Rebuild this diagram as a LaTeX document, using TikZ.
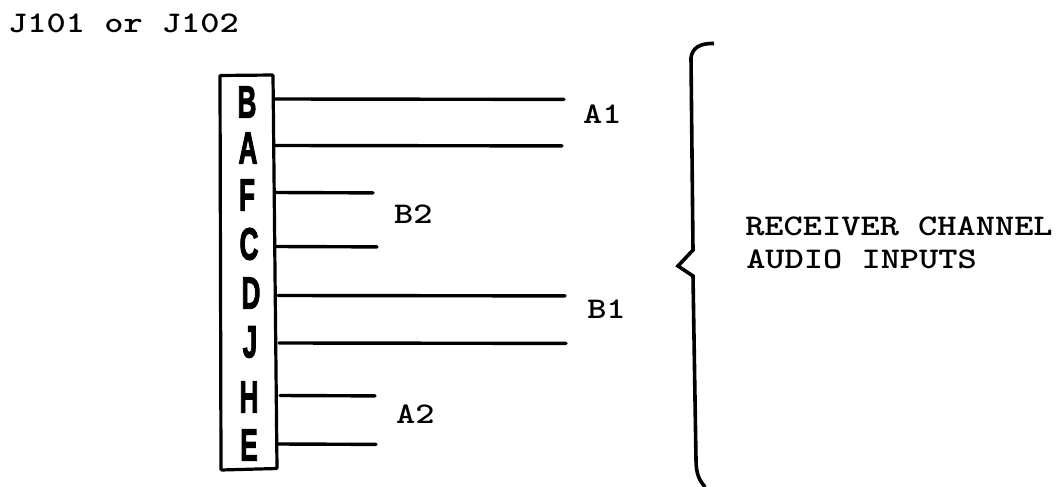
\documentclass[tikz,border=0pt]{standalone}
\usepackage{fontspec}
\newfontfamily\pinfont[FakeBold=3]{Liberation Sans Bold}
\tikzset{
  wire/.style={line width=3.4pt,line cap=round},
  pin/.style={font=\pinfont\fontsize{45}{45}\selectfont,xscale=.58,transform shape,inner sep=0pt,anchor=center},
  lab/.style={font=\ttfamily\bfseries\fontsize{30}{30}\selectfont,xscale=1.22,transform shape,inner sep=0pt,anchor=base west},
}
\begin{document}
\begin{tikzpicture}[x=1pt,y=-1pt]
\useasboundingbox (0,0) rectangle (1058,487);
\fill[white] (0,0) rectangle (1058,487);
\node[lab] (title) at (8,33) {J101 or J102};
\draw[line width=3.2pt,rounded corners=1pt] (220,75.5) -- (273,75) -- (277,468.5) -- (221,470) -- cycle;
\node[pin] (pB) at (247,102) {B};
\node[pin] (pA) at (248,148) {A};
\node[pin] (pF) at (247,195) {F};
\node[pin] (pC) at (249,244) {C};
\node[pin] (pD) at (251,293) {D};
\node[pin] (pJ) at (250,342) {J};
\node[pin] (pH) at (249,397) {H};
\node[pin] (pE) at (249,445) {E};
\foreach \n/\y/\a/\b in {b/99/275/564,a/145.5/275/562,f/192.5/276/373,c/246.5/276/377,d/295.5/278/565,j/343/279/566,h/395.5/280/375,e/444/278/376}{
  \coordinate (\n0) at (\a,\y);
  \coordinate (\n1) at (\b,\y+0.4);
  \draw[wire] (\n0) -- (\n1);
}
\node[lab] (A1) at (583,123) {A1};
\node[lab] (B2) at (394,223) {B2};
\node[lab] (B1) at (587,318) {B1};
\node[lab] (A2) at (396,423) {A2};
\node[lab] (rc) at (745,235) {RECEIVER CHANNEL};
\node[lab] (ai) at (746,268) {AUDIO INPUTS};
\draw[line width=3.6pt,line join=miter] (714,43.5) .. controls (700,43) and (692,48) .. (691,58) -- (693,250) -- (678,266) -- (693,276) -- (696,460) .. controls (696,475) and (700,481) .. (705,487);
\end{tikzpicture}
\end{document}
